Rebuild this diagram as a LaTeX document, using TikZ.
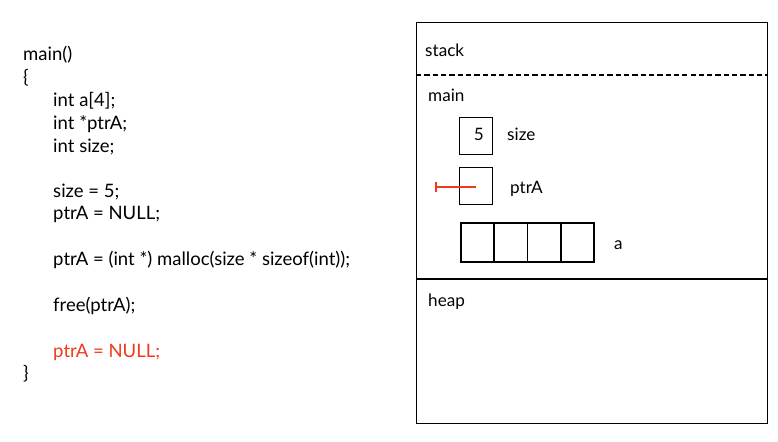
\documentclass[tikz,border=0pt]{standalone}
\usepackage{fontspec}
\setmainfont{Lato}
\usetikzlibrary{arrows.meta,positioning}
\definecolor{codeRed}{HTML}{F2391C}
\tikzset{
  codeline/.style={anchor=base west, inner sep=0pt, font=\fontsize{15.8}{18}\selectfont},
  memlabel/.style={anchor=base west, inner sep=0pt, font=\fontsize{14.6}{17}\selectfont},
  cell/.style={draw, thick, minimum width=0.99cm, minimum height=1.11cm, inner sep=0pt},
  arrcell/.style={draw, line width=1.4pt, minimum width=0.998cm, minimum height=1.17cm, inner sep=0pt},
  nullptr/.style={{Bar[width=2.8mm, line width=1.3pt]}-, line width=1.3pt, color=codeRed},
}

\begin{document}
\begin{tikzpicture}[x=0.03cm, y=-0.03cm]
\useasboundingbox (0,0) rectangle (778,441);

% code
\node[codeline] (l0) at (23,60.7) {main()};
\node[codeline] (l1) at (23,83) {\{};
\node[codeline] (l2) at (53,106.5) {int a[4];};
\node[codeline] (l3) at (53,129) {int *ptrA;};
\node[codeline] (l4) at (53,152) {int size;};
\node[codeline] (l5) at (53,197) {size = 5;};
\node[codeline] (l6) at (53,219.5) {ptrA = NULL;};
\node[codeline] (l7) at (53,265) {ptrA = (int *) malloc(size * sizeof(int));};
\node[codeline] (l8) at (53,311) {free(ptrA);};
\node[codeline, text=codeRed] (l9) at (53,357) {ptrA = NULL;};
\node[codeline] (l10) at (23,379) {\}};

% memory
\draw[thick] (416,22.5) rectangle (767,423);
\draw[line width=1.2pt, dash pattern=on 4.5pt off 2.6pt] (416,75) -- (767,75);
\draw[line width=1.2pt] (416,279) -- (767,279);
\node[memlabel] (stack) at (425,56.7) {stack};
\node[memlabel] (frame) at (428,101.7) {main};
\node[memlabel] (heap) at (428,306) {heap};

\node[cell] (sizebox) at (475.5,135.5) {};
\node[memlabel, anchor=base east] (sizeval) at (484,140.7) {5};
\node[memlabel] (sizename) at (507,140.7) {size};

\node[cell] (ptrbox) at (475.5,185.5) {};
\node[memlabel] (ptrname) at (510,193) {ptrA};
\coordinate (nullend) at (435,187);
\draw[nullptr] (nullend) -- (ptrbox.center |- nullend);

\foreach \i in {0,...,3}
  \node[arrcell] (a\i) at ({477.6+33.25*\i},242.5) {};
\node[memlabel] (aname) at (614,249) {a};
\end{tikzpicture}
\end{document}
